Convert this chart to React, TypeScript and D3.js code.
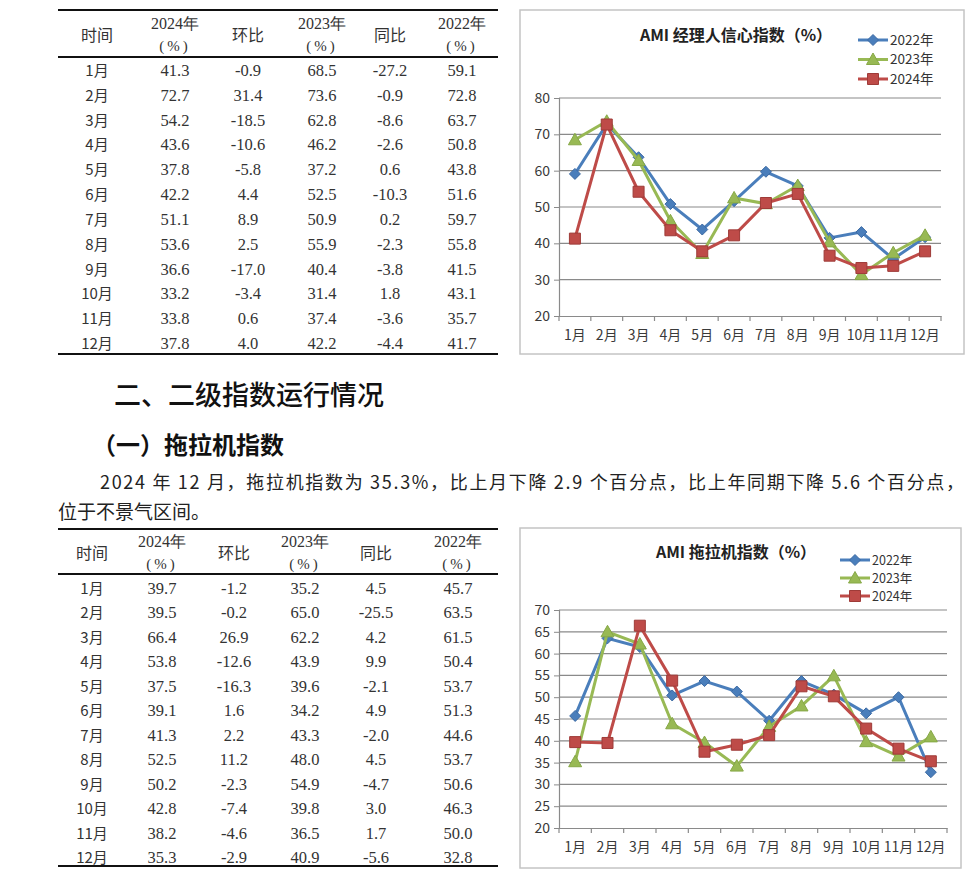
import React, { useEffect, useRef } from 'react';
import * as d3 from 'd3';

const months = ['1月', '2月', '3月', '4月', '5月', '6月', '7月', '8月', '9月', '10月', '11月', '12月'];
const seriesNames = ['2022年', '2023年', '2024年'];
const seriesColors = ['#4a7ebb', '#98b954', '#be4b48'];
const seriesEdge = ['#3c6aa3', '#86a846', '#9e3b38'];
const seriesMarkers = ['diamond', 'triangle', 'square'];
const tableHeads = ['时间', '2024年', '环比', '2023年', '同比', '2022年'];
const headHasUnit = [false, true, false, true, false, true];

// AMI 经理人信心指数
const ami2024 = [41.3, 72.7, 54.2, 43.6, 37.8, 42.2, 51.1, 53.6, 36.6, 33.2, 33.8, 37.8];
const amiHuanbi = [-0.9, 31.4, -18.5, -10.6, -5.8, 4.4, 8.9, 2.5, -17.0, -3.4, 0.6, 4.0];
const ami2023 = [68.5, 73.6, 62.8, 46.2, 37.2, 52.5, 50.9, 55.9, 40.4, 31.4, 37.4, 42.2];
const amiTongbi = [-27.2, -0.9, -8.6, -2.6, 0.6, -10.3, 0.2, -2.3, -3.8, 1.8, -3.6, -4.4];
const ami2022 = [59.1, 72.8, 63.7, 50.8, 43.8, 51.6, 59.7, 55.8, 41.5, 43.1, 35.7, 41.7];
const amiTicks = [20, 30, 40, 50, 60, 70, 80];

// 拖拉机指数
const tr2024 = [39.7, 39.5, 66.4, 53.8, 37.5, 39.1, 41.3, 52.5, 50.2, 42.8, 38.2, 35.3];
const trHuanbi = [-1.2, -0.2, 26.9, -12.6, -16.3, 1.6, 2.2, 11.2, -2.3, -7.4, -4.6, -2.9];
const tr2023 = [35.2, 65.0, 62.2, 43.9, 39.6, 34.2, 43.3, 48.0, 54.9, 39.8, 36.5, 40.9];
const trTongbi = [4.5, -25.5, 4.2, 9.9, -2.1, 4.9, -2.0, 4.5, -4.7, 3.0, 1.7, -5.6];
const tr2022 = [45.7, 63.5, 61.5, 50.4, 53.7, 51.3, 44.6, 53.7, 50.6, 46.3, 50.0, 32.8];
const trTicks = [20, 25, 30, 35, 40, 45, 50, 55, 60, 65, 70];

const heading1 = '二、二级指数运行情况';
const heading2 = '（一）拖拉机指数';
const para1 = '2024 年 12 月，拖拉机指数为 35.3%，比上月下降 2.9 个百分点，比上年同期下降 5.6 个百分点，';
const para2 = '位于不景气区间。';

const CJK = '"Noto Sans CJK SC", "Noto Sans", sans-serif';

function markerPath(kind: string) {
  if (kind === 'diamond') return 'M0,-5.5L5.5,0L0,5.5L-5.5,0Z';
  if (kind === 'triangle') return 'M0,-6.5L6.5,5L-6.5,5Z';
  return 'M-5.5,-5.5H5.5V5.5H-5.5Z';
}

const App: React.FC = () => {
  const ref = useRef<SVGSVGElement | null>(null);

  useEffect(() => {
    const svg = d3.select(ref.current);
    svg.selectAll('*').remove();

    function drawTable(cfg: any) {
      const g = svg.append('g');
      const colX = d3.scaleOrdinal<number, number>().domain(d3.range(6)).range(cfg.cols);
      const rowY = d3.scaleLinear().domain([0, 11]).range([cfg.rowTop, cfg.rowBottom]);
      [cfg.top, cfg.headLine, cfg.bottom].forEach((y: number) => {
        g.append('line')
          .attr('x1', 58).attr('x2', 498)
          .attr('y1', y).attr('y2', y)
          .attr('stroke', '#111').attr('stroke-width', 2.2);
      });
      tableHeads.forEach((h, i) => {
        if (headHasUnit[i]) {
          g.append('text')
            .attr('x', colX(i)).attr('y', cfg.headY - 12)
            .attr('text-anchor', 'middle')
            .attr('font-family', cfg.numFont).attr('font-size', 16)
            .attr('fill', '#333').text(h);
          g.append('text')
            .attr('x', colX(i)).attr('y', cfg.headY + 10)
            .attr('text-anchor', 'middle')
            .attr('font-family', cfg.numFont).attr('font-size', 15)
            .attr('letter-spacing', 3)
            .attr('fill', '#333').text('(%)');
        } else {
          g.append('text')
            .attr('x', colX(i)).attr('y', cfg.headY)
            .attr('text-anchor', 'middle')
            .attr('font-family', CJK).attr('font-size', 16)
            .attr('fill', '#333').text(h);
        }
      });
      const columns = [cfg.v2024, cfg.huanbi, cfg.v2023, cfg.tongbi, cfg.v2022];
      months.forEach((m, r) => {
        g.append('text')
          .attr('x', colX(0)).attr('y', rowY(r) + 6)
          .attr('text-anchor', 'middle')
          .attr('font-family', CJK).attr('font-size', 15)
          .attr('fill', '#333').text(m);
        columns.forEach((col: number[], c) => {
          g.append('text')
            .attr('x', colX(c + 1)).attr('y', rowY(r) + 6)
            .attr('text-anchor', 'middle')
            .attr('font-family', cfg.numFont).attr('font-size', 16.5)
            .attr('fill', '#333').text(col[r].toFixed(1));
        });
      });
    }

    function drawChart(cfg: any) {
      const g = svg.append('g');
      g.append('rect')
        .attr('x', cfg.box[0]).attr('y', cfg.box[1])
        .attr('width', cfg.box[2] - cfg.box[0]).attr('height', cfg.box[3] - cfg.box[1])
        .attr('fill', '#fff').attr('stroke', '#c4c4c4').attr('stroke-width', 1.5);

      const x = d3.scaleBand().domain(months).range([cfg.x0, cfg.x1]);
      const y = d3.scaleLinear().domain([cfg.ticks[0], cfg.ticks[cfg.ticks.length - 1]]).range([cfg.yBottom, cfg.yTop]);

      // gridlines
      g.selectAll('.grid').data(cfg.ticks.slice(1)).enter().append('line')
        .attr('x1', cfg.x0).attr('x2', cfg.x1)
        .attr('y1', (d: any) => y(d)).attr('y2', (d: any) => y(d))
        .attr('stroke', '#8a8a8a').attr('stroke-width', 1.2);

      const yAxis = g.append('g')
        .attr('transform', `translate(${cfg.x0},0)`)
        .call(d3.axisLeft(y).tickValues(cfg.ticks).tickSize(5).tickPadding(4));
      const xAxis = g.append('g')
        .attr('transform', `translate(0,${cfg.yBottom})`)
        .call(d3.axisBottom(x).tickSize(0).tickPadding(14));
      [yAxis, xAxis].forEach((a) => {
        a.select('.domain').attr('stroke', '#8a8a8a').attr('stroke-width', 1.2);
        a.selectAll('.tick line').attr('stroke', '#8a8a8a');
        a.selectAll('text').attr('font-family', CJK).attr('font-size', 14).attr('fill', '#3a3a3a');
      });
      // category boundary ticks
      g.selectAll('.xtick').data(d3.range(13)).enter().append('line')
        .attr('x1', (d: number) => cfg.x0 + d * x.step())
        .attr('x2', (d: number) => cfg.x0 + d * x.step())
        .attr('y1', cfg.yBottom).attr('y2', cfg.yBottom + 5)
        .attr('stroke', '#8a8a8a').attr('stroke-width', 1.2);

      const line = d3.line<number>()
        .x((_d, i) => (x(months[i]) as number) + x.bandwidth() / 2)
        .y((d) => y(d));

      cfg.series.forEach((s: number[], k: number) => {
        g.append('path')
          .attr('d', line(s) as string)
          .attr('fill', 'none')
          .attr('stroke', seriesColors[k])
          .attr('stroke-width', 3)
          .attr('stroke-linejoin', 'round');
        g.selectAll(`.m${k}`).data(s).enter().append('path')
          .attr('d', markerPath(seriesMarkers[k]))
          .attr('transform', (d: number, i: number) => `translate(${(x(months[i]) as number) + x.bandwidth() / 2},${y(d)})`)
          .attr('fill', seriesColors[k])
          .attr('stroke', seriesEdge[k]).attr('stroke-width', 1);
      });

      g.append('text')
        .attr('x', cfg.titleX).attr('y', cfg.titleY)
        .attr('text-anchor', 'middle')
        .attr('font-family', CJK).attr('font-size', 16).attr('font-weight', 'bold')
        .attr('fill', '#222').text(cfg.title);

      seriesNames.forEach((n, k) => {
        const ly = cfg.legendY + k * cfg.legendStep;
        g.append('line')
          .attr('x1', cfg.legendX).attr('x2', cfg.legendX + 30)
          .attr('y1', ly).attr('y2', ly)
          .attr('stroke', seriesColors[k]).attr('stroke-width', 3);
        g.append('path')
          .attr('d', markerPath(seriesMarkers[k]))
          .attr('transform', `translate(${cfg.legendX + 15},${ly})`)
          .attr('fill', seriesColors[k]).attr('stroke', seriesEdge[k]);
        g.append('text')
          .attr('x', cfg.legendX + 32).attr('y', ly + 4.5)
          .attr('font-family', CJK).attr('font-size', cfg.legendFont)
          .attr('fill', '#333').text(n);
      });
    }

    drawTable({
      top: 10, headLine: 57, bottom: 354, headY: 41,
      rowTop: 70, rowBottom: 343,
      cols: [97, 175, 248, 322, 390, 462],
      numFont: '"Liberation Serif", serif',
      v2024: ami2024, huanbi: amiHuanbi, v2023: ami2023, tongbi: amiTongbi, v2022: ami2022,
    });

    drawChart({
      box: [520, 10, 964, 354],
      x0: 559, x1: 941, yTop: 98, yBottom: 316,
      ticks: amiTicks,
      series: [ami2022, ami2023, ami2024],
      title: 'AMI 经理人信心指数（%）', titleX: 736, titleY: 41,
      legendX: 858, legendY: 40, legendStep: 19.5, legendFont: 13.5,
    });

    svg.append('text')
      .attr('x', 114).attr('y', 405)
      .attr('font-family', CJK).attr('font-size', 27).attr('font-weight', 500)
      .attr('fill', '#111').text(heading1);
    svg.append('text')
      .attr('x', 92).attr('y', 454)
      .attr('font-family', CJK).attr('font-size', 24).attr('font-weight', 'bold')
      .attr('fill', '#111').text(heading2);
    svg.append('text')
      .attr('x', 100).attr('y', 489)
      .attr('font-family', CJK).attr('font-size', 18)
      .attr('textLength', 864).attr('lengthAdjust', 'spacing')
      .attr('fill', '#222').text(para1);
    svg.append('text')
      .attr('x', 58).attr('y', 519)
      .attr('font-family', CJK).attr('font-size', 19)
      .attr('fill', '#222').text(para2);

    drawTable({
      top: 529, headLine: 574, bottom: 866, headY: 559,
      rowTop: 588, rowBottom: 857,
      cols: [92, 162, 234, 305, 376, 458],
      numFont: '"Liberation Serif", serif',
      v2024: tr2024, huanbi: trHuanbi, v2023: tr2023, tongbi: trTongbi, v2022: tr2022,
    });

    drawChart({
      box: [520, 528, 961, 868],
      x0: 559, x1: 947, yTop: 610, yBottom: 828,
      ticks: trTicks,
      series: [tr2022, tr2023, tr2024],
      title: 'AMI 拖拉机指数（%）', titleX: 736, titleY: 558,
      legendX: 840, legendY: 560, legendStep: 18, legendFont: 12.5,
    });
  }, []);

  return (
    <svg ref={ref} width={966} height={876}
      style={{ position: 'absolute', left: 0, top: 0, background: '#fff', display: 'block' }} />
  );
};

export default App;
